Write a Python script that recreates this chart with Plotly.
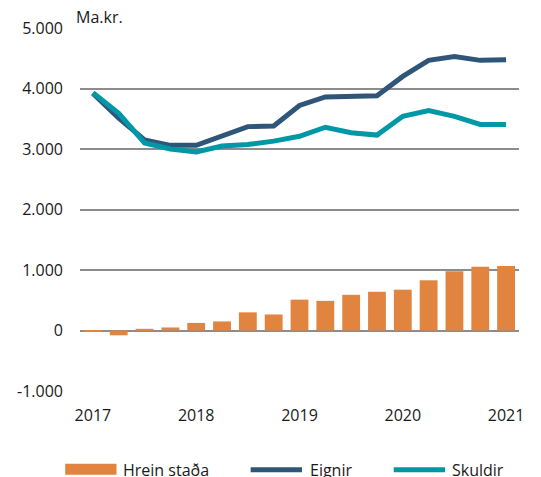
import plotly.graph_objects as go

quarters = ["2017Q1","2017Q2","2017Q3","2017Q4","2018Q1","2018Q2","2018Q3","2018Q4",
            "2019Q1","2019Q2","2019Q3","2019Q4","2020Q1","2020Q2","2020Q3","2020Q4","2021Q1"]
hrein_stada = [-15, -80, 28, 50, 125, 150, 300, 265, 510, 490, 590, 640, 675, 830, 980, 1055, 1065]
eignir = [3920, 3510, 3150, 3060, 3060, 3210, 3370, 3380, 3720, 3860, 3860, 3880, 4200, 4465, 4530, 4465, 4475]
skuldir = [3930, 3590, 3100, 3000, 2950, 3050, 3075, 3130, 3210, 3360, 3270, 3230, 3540, 3635, 3540, 3405, 3405]
year_ticks = ["2017", "2018", "2019", "2020", "2021"]
series_names = ["Hrein staða", "Eignir", "Skuldir"]

c_bar = "#E0843F"
c_eig = "#2F5579"
c_sku = "#0097A7"
font = "Open Sans"

fig = go.Figure()
fig.add_trace(go.Bar(x=quarters, y=hrein_stada, name=series_names[0], marker_color=c_bar,
                     marker_line_width=0))
fig.add_trace(go.Scatter(x=quarters, y=eignir, name=series_names[1], mode="lines",
                         line=dict(color=c_eig, width=5)))
fig.add_trace(go.Scatter(x=quarters, y=skuldir, name=series_names[2], mode="lines",
                         line=dict(color=c_sku, width=5)))

OFF = 8  # page body margin
W, H = 525, 469
L, T = 79 - OFF, 27 - OFF
R = W - (524 - OFF)
B = H - (391 - OFF)
pw, ph = W - L - R, H - T - B

def px(x):  # screen x -> paper
    return (x - OFF - L) / pw

def py(y):  # screen y -> paper
    return (H - B - (y - OFF)) / ph

fig.update_layout(
    width=W, height=H,
    margin=dict(l=L, r=R, t=T, b=B),
    paper_bgcolor="white", plot_bgcolor="white",
    showlegend=False,
    bargap=0.31,
    font=dict(family=font, size=16, color="#1a1a1a"),
    xaxis=dict(
        type="category",
        tickvals=[quarters[0], quarters[4], quarters[8], quarters[12], quarters[16]],
        ticktext=year_ticks,
        showgrid=False, zeroline=False, showline=False, ticks="",
        ticklabelstandoff=13,
        range=[-0.5, 16.5],
    ),
    yaxis=dict(
        range=[-1000, 5000],
        tickvals=[-1000, 0, 1000, 2000, 3000, 4000, 5000],
        ticktext=["-1.000", "0", "1.000", "2.000", "3.000", "4.000", "5.000"],
        showgrid=True, gridcolor="#8c8c8c", gridwidth=1.5,
        zeroline=True, zerolinecolor="#8c8c8c", zerolinewidth=1.5,
        showline=False, ticks="", ticklabelstandoff=16,
    ),
)

fig.add_annotation(text="Ma.kr.", xref="paper", yref="paper", x=px(74), y=py(16),
                   xanchor="left", yanchor="middle", showarrow=False, borderpad=0,
                   font=dict(family=font, size=16, color="#1a1a1a"))

# manual legend
ly = py(470)
fig.add_shape(type="rect", xref="paper", yref="paper", x0=px(64), x1=px(116),
              y0=py(475), y1=py(464), fillcolor=c_bar, line_width=0)
fig.add_shape(type="line", xref="paper", yref="paper", x0=px(252), x1=px(304),
              y0=ly, y1=ly, line=dict(color=c_eig, width=5))
fig.add_shape(type="line", xref="paper", yref="paper", x0=px(397), x1=px(449),
              y0=ly, y1=ly, line=dict(color=c_sku, width=5))
for name, x in zip(series_names, [121, 310, 454]):
    fig.add_annotation(text=name, xref="paper", yref="paper", x=px(x), y=ly,
                       xanchor="left", yanchor="middle", showarrow=False,
                       font=dict(family=font, size=16, color="#1a1a1a"))

fig.write_html("out.html")
